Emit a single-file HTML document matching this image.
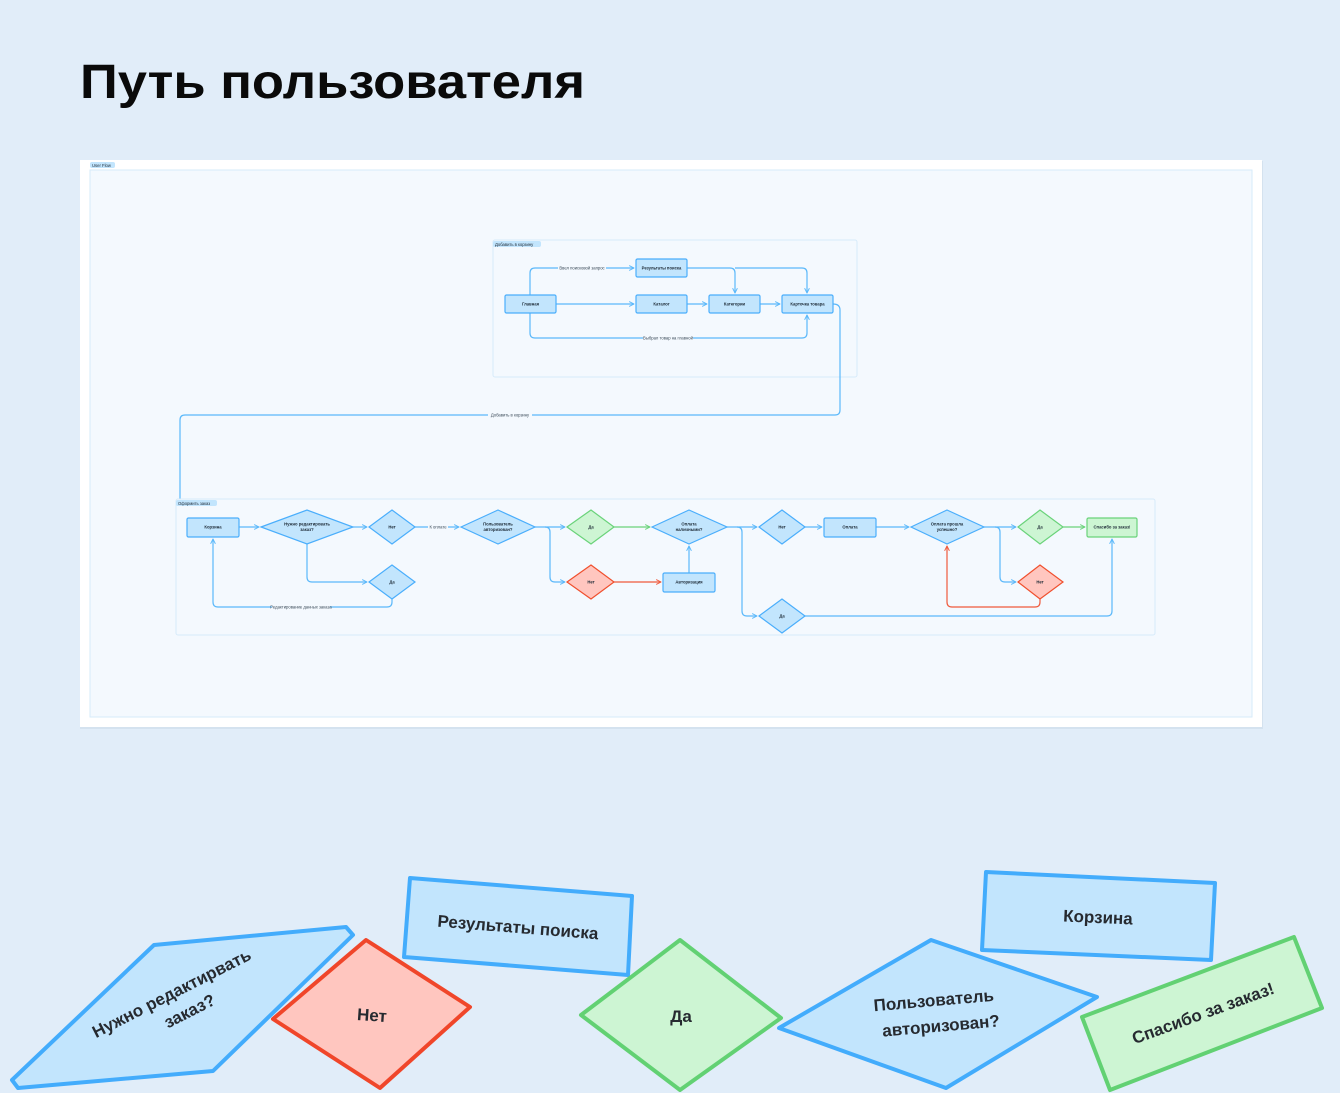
<!DOCTYPE html>
<html><head><meta charset="utf-8"><style>
html,body{margin:0;padding:0;background:#e1edf9;}
svg{display:block;font-family:"Liberation Sans",sans-serif;}
.n{font-size:4.2px;fill:#1d2a36;text-anchor:middle;font-weight:bold;}
.l{font-size:4.2px;fill:#3a4a58;text-anchor:middle;}
.c{fill:none;stroke:#5ab8fa;stroke-width:1.2;}
.cg{fill:none;stroke:#6ad37a;stroke-width:1.2;}
.cr{fill:none;stroke:#ef5a3c;stroke-width:1.2;}
.b{fill:#c2e5fd;stroke:#4aaefc;stroke-width:1.2;}
.g{fill:#cdf5d3;stroke:#6ad37a;stroke-width:1.2;}
.r{fill:#ffc6bf;stroke:#f0502e;stroke-width:1.2;}
.B{fill:#c2e5fd;stroke:#43acfc;stroke-width:4;stroke-linejoin:round;}
.G{fill:#cdf5d3;stroke:#62d173;stroke-width:4;stroke-linejoin:round;}
.R{fill:#ffc6bf;stroke:#f0462a;stroke-width:4;stroke-linejoin:round;}
.T{font-size:17px;font-weight:bold;fill:#262a30;text-anchor:middle;}
</style></head><body>
<svg width="1340" height="1093" viewBox="0 0 1340 1093" xmlns="http://www.w3.org/2000/svg">
<defs>
<marker id="a" viewBox="0 0 10 10" refX="9" refY="5" markerWidth="5" markerHeight="5" orient="auto"><path d="M1,1 L9,5 L1,9" fill="none" stroke="#5ab8fa" stroke-width="1.6"/></marker>
<marker id="ag" viewBox="0 0 10 10" refX="9" refY="5" markerWidth="5" markerHeight="5" orient="auto"><path d="M1,1 L9,5 L1,9" fill="none" stroke="#6ad37a" stroke-width="1.6"/></marker>
<marker id="ar" viewBox="0 0 10 10" refX="9" refY="5" markerWidth="5" markerHeight="5" orient="auto"><path d="M1,1 L9,5 L1,9" fill="none" stroke="#ef5a3c" stroke-width="1.6"/></marker>
</defs>
<rect width="1340" height="1093" fill="#e1edf9"/>
<text x="80" y="98" font-size="48" font-weight="bold" fill="#0a0a0a" textLength="505" lengthAdjust="spacingAndGlyphs">Путь пользователя</text>

<!-- card -->
<rect x="80" y="161" width="1183" height="568" fill="#d4e2ef"/>
<rect x="80" y="160" width="1182" height="567" fill="#ffffff"/>
<rect x="90" y="170" width="1162" height="547" fill="#f4f9fe" stroke="#d6ebfa" stroke-width="1"/>
<rect x="90" y="162" width="25" height="6" rx="2" fill="#c2e5fd"/>
<text x="92" y="166.8" font-size="4.2" fill="#1d2a36">User Flow</text>

<!-- group 1 -->
<rect x="493" y="240" width="364" height="137" rx="2" fill="#f4f9fe" stroke="#d6ebfa" stroke-width="1"/>
<rect x="493" y="241" width="48" height="6" rx="2" fill="#c2e5fd"/>
<text x="495" y="245.8" font-size="4.2" fill="#1d2a36">Добавить в корзину</text>

<path class="c" d="M530,295 V273 Q530,268 535,268 H558 M606,268 H634" marker-end="url(#a)"/>
<text class="l" x="582" y="269.5">Ввел поисковой запрос</text>
<path class="c" d="M556,304 H634" marker-end="url(#a)"/>
<path class="c" d="M687,304 H707" marker-end="url(#a)"/>
<path class="c" d="M760,304 H780" marker-end="url(#a)"/>
<path class="c" d="M687,268 H730 Q735,268 735,273 V293" marker-end="url(#a)"/>
<path class="c" d="M735,268 H802 Q807,268 807,273 V293" marker-end="url(#a)"/>
<path class="c" d="M530,313 V333 Q530,338 535,338 H643 M693,338 H802 Q807,338 807,333 V315" marker-end="url(#a)"/>
<text class="l" x="668" y="339.5">Выбрал товар на главной</text>
<path class="c" d="M833,304 Q840,304 840,310 V410 Q840,415 835,415 H532 M488,415 H185 Q180,415 180,420 V522 Q180,527 185,527 H186" marker-end="url(#a)"/>
<text class="l" x="510" y="416.5">Добавить в корзину</text>

<rect class="b" x="505" y="295" width="51" height="18" rx="1.5"/><text class="n" x="530.5" y="305.5">Главная</text>
<rect class="b" x="636" y="259" width="51" height="18" rx="1.5"/><text class="n" x="661.5" y="269.5">Результаты поиска</text>
<rect class="b" x="636" y="295" width="51" height="18" rx="1.5"/><text class="n" x="661.5" y="305.5">Каталог</text>
<rect class="b" x="709" y="295" width="51" height="18" rx="1.5"/><text class="n" x="734.5" y="305.5">Категории</text>
<rect class="b" x="782" y="295" width="51" height="18" rx="1.5"/><text class="n" x="807.5" y="305.5">Карточка товара</text>

<!-- group 2 -->
<rect x="176" y="499" width="979" height="136" rx="2" fill="#f4f9fe" stroke="#d6ebfa" stroke-width="1"/>
<rect x="176" y="500" width="41" height="6" rx="2" fill="#c2e5fd"/>
<text x="178" y="504.8" font-size="4.2" fill="#1d2a36">Оформить заказ</text>

<path class="c" d="M239,527 H259" marker-end="url(#a)"/>
<path class="c" d="M353,527 H367" marker-end="url(#a)"/>
<path class="c" d="M415,527 H428 M448,527 H459" marker-end="url(#a)"/>
<text class="l" x="438" y="528.5">К оплате</text>
<path class="c" d="M307,544 V577 Q307,582 312,582 H367" marker-end="url(#a)"/>
<path class="c" d="M392,599 V602 Q392,607 387,607 H330 M272,607 H218 Q213,607 213,602 V539" marker-end="url(#a)"/>
<text class="l" x="301" y="608.5">Редактирование данных заказа</text>
<path class="c" d="M535,527 H565" marker-end="url(#a)"/>
<path class="c" d="M545,527 Q550,527 550,532 V577 Q550,582 555,582 H565" marker-end="url(#a)"/>
<path class="cg" d="M614,527 H650" marker-end="url(#ag)"/>
<path class="cr" d="M614,582 H661" marker-end="url(#ar)"/>
<path class="c" d="M689,573 V546" marker-end="url(#a)"/>
<path class="c" d="M727,527 H757" marker-end="url(#a)"/>
<path class="c" d="M737,527 Q742,527 742,532 V611 Q742,616 747,616 H757" marker-end="url(#a)"/>
<path class="c" d="M805,527 H822" marker-end="url(#a)"/>
<path class="c" d="M876,527 H909" marker-end="url(#a)"/>
<path class="c" d="M984,527 H1016" marker-end="url(#a)"/>
<path class="cg" d="M1063,527 H1085" marker-end="url(#ag)"/>
<path class="c" d="M995,527 Q1000,527 1000,532 V577 Q1000,582 1005,582 H1016" marker-end="url(#a)"/>
<path class="cr" d="M1040,599 V602 Q1040,607 1035,607 H952 Q947,607 947,602 V546" marker-end="url(#ar)"/>
<path class="c" d="M805,616 H1107 Q1112,616 1112,611 V539" marker-end="url(#a)"/>

<rect class="b" x="187" y="518" width="52" height="19" rx="1.5"/><text class="n" x="213" y="528.5">Корзина</text>
<polygon class="b" points="261,527 307,510 353,527 307,544"/><text class="n" x="307" y="525.5">Нужно редактировать</text><text class="n" x="307" y="531">заказ?</text>
<polygon class="b" points="369,527 392,510 415,527 392,544"/><text class="n" x="392" y="528.5">Нет</text>
<polygon class="b" points="369,582 392,565 415,582 392,599"/><text class="n" x="392" y="583.5">Да</text>
<polygon class="b" points="461,527 498,510 535,527 498,544"/><text class="n" x="498" y="525.5">Пользователь</text><text class="n" x="498" y="531">авторизован?</text>
<polygon class="g" points="567,527 591,510 614,527 591,544"/><text class="n" x="591" y="528.5">Да</text>
<polygon class="r" points="567,582 591,565 614,582 591,599"/><text class="n" x="591" y="583.5">Нет</text>
<rect class="b" x="663" y="573" width="52" height="19" rx="1.5"/><text class="n" x="689" y="583.5">Авторизация</text>
<polygon class="b" points="652,527 689,510 727,527 689,544"/><text class="n" x="689" y="525.5">Оплата</text><text class="n" x="689" y="531">наличными?</text>
<polygon class="b" points="759,527 782,510 805,527 782,544"/><text class="n" x="782" y="528.5">Нет</text>
<polygon class="b" points="759,616 782,599 805,616 782,633"/><text class="n" x="782" y="617.5">Да</text>
<rect class="b" x="824" y="518" width="52" height="19" rx="1.5"/><text class="n" x="850" y="528.5">Оплата</text>
<polygon class="b" points="911,527 947,510 984,527 947,544"/><text class="n" x="947" y="525.5">Оплата прошла</text><text class="n" x="947" y="531">успешно?</text>
<polygon class="g" points="1018,527 1040,510 1063,527 1040,544"/><text class="n" x="1040" y="528.5">Да</text>
<polygon class="r" points="1018,582 1040,565 1063,582 1040,599"/><text class="n" x="1040" y="583.5">Нет</text>
<rect class="g" x="1087" y="518" width="50" height="19" rx="1.5"/><text class="n" x="1112" y="528.5">Спасибо за заказ!</text>

<!-- bottom decorative shapes -->
<polygon class="B" points="154,945 346,927 353,935 213,1071 18,1088 12,1080"/>
<text class="T" transform="translate(176,1002) rotate(-27)" x="0" y="-4">Нужно редактирвать</text>
<text class="T" transform="translate(176,1002) rotate(-27)" x="8" y="20">заказ?</text>
<polygon class="R" points="366,940 470,1007 380,1088 273,1019"/>
<text class="T" x="372" y="1021" transform="rotate(4 372 1015)">Нет</text>
<polygon class="B" points="410,878 632,896 628,975 404,957"/>
<text class="T" x="518" y="933" transform="rotate(4.5 518 927)">Результаты поиска</text>
<polygon class="G" points="680,940 781,1018 680,1090 581,1015"/>
<text class="T" x="681" y="1022">Да</text>
<polygon class="B" points="931,940 1097,997 946,1088 779,1028"/>
<text class="T" x="935" y="1006" transform="rotate(-5 935 1015)">Пользователь</text>
<text class="T" x="940" y="1032" transform="rotate(-5 935 1015)">авторизован?</text>
<polygon class="B" points="986,872 1215,883 1211,960 982,950"/>
<text class="T" x="1098" y="923" transform="rotate(2.5 1098 917)">Корзина</text>
<polygon class="G" points="1082,1017 1294,937 1322,1008 1110,1090"/>
<text class="T" x="1203" y="1019" transform="rotate(-20 1203 1013)">Спасибо за заказ!</text>
</svg>
</body></html>
